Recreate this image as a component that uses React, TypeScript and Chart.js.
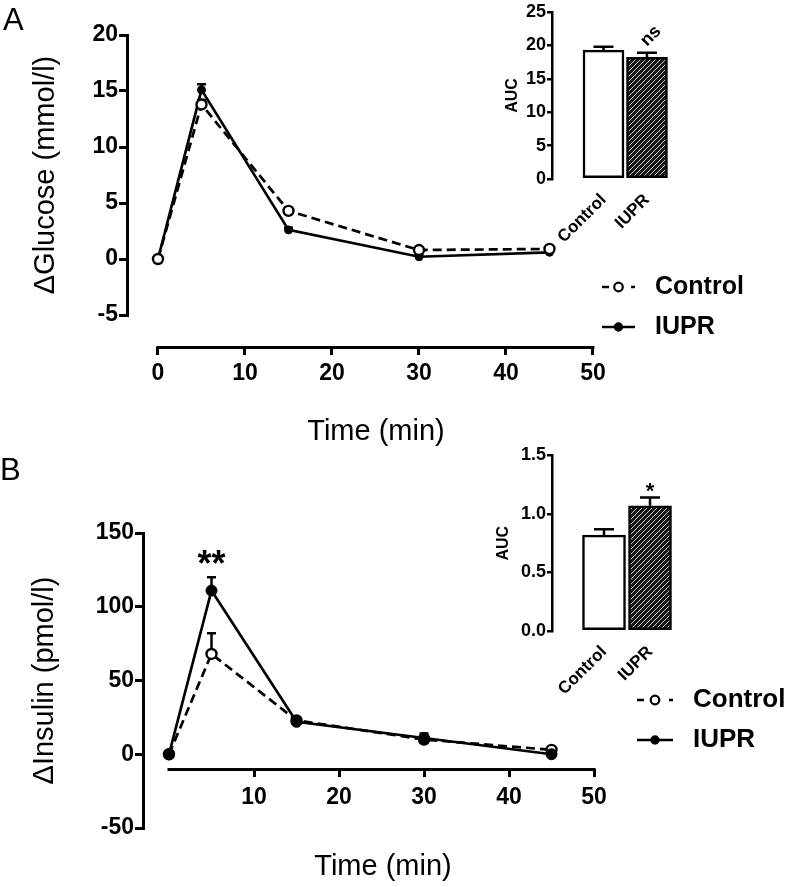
import React, { useEffect, useRef } from "react";
import { Chart, registerables } from "chart.js";

Chart.register(...registerables);

const FONT = "'Liberation Sans', Arial, Helvetica, sans-serif";
Chart.defaults.font.family = FONT;
Chart.defaults.color = "#000";

// ---------------- Data ----------------
const timeMin = [0, 5, 15, 30, 45];

// Panel A – glucose
const glucoseControl = [0, 13.8, 4.3, 0.8, 0.9];
const glucoseControlSEM = [0, 0.4, 0.3, 0.2, 0.2];
const glucoseIUPR = [0, 15.1, 2.6, 0.2, 0.6];
const glucoseIUPRSEM = [0, 0.5, 0.2, 0.2, 0.2];
const glucoseYTicks = [-5, 0, 5, 10, 15, 20];
const glucoseXTicks = [0, 10, 20, 30, 40, 50];

// Panel B – insulin
const insulinControl = [0, 68, 23, 10, 3];
const insulinControlSEM = [0, 14, 2, 2, 2];
const insulinIUPR = [0, 111, 22, 11, 0];
const insulinIUPRSEM = [0, 9, 2, 3, 1];
const insulinYTicks = [-50, 0, 50, 100, 150];
const insulinXTicks = [10, 20, 30, 40, 50];

// Insets – AUC
const groups = ["Control", "IUPR"];
const groupPositions = [1, 2];
const glucoseAUC = [19.3, 18.2];
const glucoseAUCSEM = [0.5, 0.7];
const glucoseAUCTicks = [0, 5, 10, 15, 20, 25];
const insulinAUC = [0.82, 1.07];
const insulinAUCSEM = [0.05, 0.07];
const insulinAUCTicks = [0, 0.5, 1.0, 1.5];

// ---------------- Plugins ----------------
function valueOf(raw: any) {
  return typeof raw === "number" ? raw : raw.y;
}

function errorBarsPlugin(cap: number, width: number, front: boolean) {
  const draw = (chart: any) => {
    const ctx = chart.ctx;
    const yScale = chart.scales.y;
    chart.data.datasets.forEach((ds: any, i: number) => {
      const errs = ds.errorBars;
      if (!errs) return;
      const meta = chart.getDatasetMeta(i);
      meta.data.forEach((el: any, j: number) => {
        const e = errs[j];
        if (!e) return;
        const v = valueOf(ds.data[j]);
        const top = yScale.getPixelForValue(v + e);
        ctx.save();
        ctx.strokeStyle = "#000";
        ctx.lineWidth = width;
        ctx.lineCap = "butt";
        ctx.beginPath();
        ctx.moveTo(el.x, el.y);
        ctx.lineTo(el.x, top);
        ctx.moveTo(el.x - cap / 2, top);
        ctx.lineTo(el.x + cap / 2, top);
        ctx.stroke();
        ctx.restore();
      });
    });
  };
  return front
    ? { id: "errorBars", afterDatasetsDraw: draw }
    : { id: "errorBars", beforeDatasetsDraw: draw };
}

function xAxisLinePlugin(atY: number, from: number, to: number, width: number) {
  return {
    id: "xAxisLine",
    beforeDatasetsDraw(chart: any) {
      const { ctx } = chart;
      const x = chart.scales.x;
      const y = chart.scales.y;
      const yy = Math.round(y.getPixelForValue(atY)) + 0.5;
      ctx.save();
      ctx.strokeStyle = "#000";
      ctx.lineWidth = width;
      ctx.beginPath();
      ctx.moveTo(x.getPixelForValue(from) - width / 2, yy);
      ctx.lineTo(x.getPixelForValue(to) + width / 2, yy);
      ctx.stroke();
      ctx.restore();
    },
  };
}

function lineLegendPlugin(cfg: any) {
  return {
    id: "lineLegend",
    afterDraw(chart: any) {
      const ctx = chart.ctx;
      chart.data.datasets.forEach((ds: any, i: number) => {
        const y = cfg.y + i * cfg.gap;
        const dashed = ds.borderDash && ds.borderDash.length > 0;
        ctx.save();
        ctx.strokeStyle = "#000";
        ctx.lineWidth = 2.7;
        ctx.setLineDash(dashed ? [7, cfg.len - 11, 4] : []);
        ctx.beginPath();
        ctx.moveTo(cfg.x, y);
        ctx.lineTo(cfg.x + cfg.len, y);
        ctx.stroke();
        ctx.setLineDash([]);
        ctx.beginPath();
        ctx.arc(cfg.x + cfg.len / 2, y, dashed ? 4.3 : 3.6, 0, Math.PI * 2);
        ctx.fillStyle = ds.pointBackgroundColor;
        ctx.fill();
        ctx.lineWidth = 2.2;
        ctx.stroke();
        ctx.fillStyle = "#000";
        ctx.font = `bold ${cfg.size}px ${FONT}`;
        ctx.textAlign = "left";
        ctx.textBaseline = "middle";
        ctx.fillText(ds.label, cfg.textX, y);
        ctx.restore();
      });
    },
  };
}

function textMarksPlugin(items: any[]) {
  return {
    id: "textMarks",
    afterDatasetsDraw(chart: any) {
      const ctx = chart.ctx;
      items.forEach((it) => {
        const ds = chart.data.datasets[it.dataset];
        const el = chart.getDatasetMeta(it.dataset).data[it.index];
        const v = valueOf(ds.data[it.index]) + ((ds.errorBars && ds.errorBars[it.index]) || 0);
        const top = chart.scales.y.getPixelForValue(v);
        ctx.save();
        ctx.translate(el.x + it.dx, top + it.dy);
        ctx.rotate(it.rotation || 0);
        ctx.fillStyle = "#000";
        ctx.font = `bold ${it.size}px ${FONT}`;
        ctx.textAlign = "center";
        ctx.textBaseline = it.baseline;
        ctx.fillText(it.text, 0, 0);
        ctx.restore();
      });
    },
  };
}

// ---------------- Chart builders ----------------
function buildMain(canvas: HTMLCanvasElement, p: any) {
  return new Chart(canvas, {
    type: "line",
    data: {
      datasets: [
        {
          label: "Control",
          data: timeMin.map((t, i) => ({ x: t, y: p.control[i] })),
          errorBars: p.controlSEM,
          borderColor: "#000",
          borderWidth: 2.7,
          borderDash: [9, 5],
          pointRadius: p.rControl,
          pointBackgroundColor: "#fff",
          pointBorderColor: "#000",
          pointBorderWidth: 2.4,
          tension: 0,
          fill: false,
          order: p.controlOrder,
        } as any,
        {
          label: "IUPR",
          data: timeMin.map((t, i) => ({ x: t, y: p.iupr[i] })),
          errorBars: p.iuprSEM,
          borderColor: "#000",
          borderWidth: 2.7,
          borderDash: [],
          pointRadius: p.rIUPR,
          pointBackgroundColor: "#000",
          pointBorderColor: "#000",
          pointBorderWidth: 1,
          tension: 0,
          fill: false,
          order: p.iuprOrder,
        } as any,
      ],
    },
    options: {
      responsive: false,
      animation: false,
      devicePixelRatio: 1,
      events: [],
      layout: { padding: p.padding },
      plugins: { legend: { display: false }, tooltip: { enabled: false } },
      scales: {
        x: {
          type: "linear",
          position: { y: p.xAxisAt } as any,
          min: p.xMin,
          max: p.xMax,
          afterBuildTicks: (s: any) => {
            s.ticks = p.xTicks.map((v: number) => ({ value: v }));
          },
          afterFit: (s: any) => {
            s.height = p.xTitleBox;
          },
          grid: {
            display: true,
            drawOnChartArea: false,
            drawTicks: true,
            tickLength: 8,
            lineWidth: 3,
            color: "#000",
          },
          border: { display: false },
          ticks: {
            font: { size: 23, weight: "bold" },
            color: "#000",
            padding: p.xTickPad,
            maxRotation: 0,
            autoSkip: false,
          },
          title: {
            display: true,
            text: "Time (min)",
            font: { size: 29, weight: "normal" },
            color: "#000",
            padding: { top: 0, bottom: 0 },
          },
        },
        y: {
          type: "linear",
          position: "left",
          min: p.yMin,
          max: p.yMax,
          afterBuildTicks: (s: any) => {
            s.ticks = p.yTicks.map((v: number) => ({ value: v }));
          },
          afterFit: (s: any) => {
            s.width = p.yAxisWidth;
          },
          grid: {
            display: true,
            drawOnChartArea: false,
            drawTicks: true,
            tickLength: 8,
            lineWidth: 3,
            color: "#000",
          },
          border: { display: true, width: 3, color: "#000" },
          ticks: {
            font: { size: 23, weight: "bold" },
            color: "#000",
            padding: 1,
          },
          title: {
            display: true,
            text: p.yTitle,
            font: { size: 29, weight: "normal" },
            color: "#000",
            padding: { top: p.yTitlePad, bottom: 0 },
          },
        },
      },
    } as any,
    plugins: [
      xAxisLinePlugin(p.xAxisAt, 0, 50, 3),
      errorBarsPlugin(9, 2.5, false),
      textMarksPlugin(p.marks),
      lineLegendPlugin(p.legend),
    ] as any,
  });
}

function makeHatch() {
  const c = document.createElement("canvas");
  c.width = 5;
  c.height = 5;
  const g = c.getContext("2d") as CanvasRenderingContext2D;
  g.fillStyle = "#151515";
  g.fillRect(0, 0, 5, 5);
  g.strokeStyle = "#c8c8c8";
  g.lineWidth = 1;
  g.beginPath();
  g.moveTo(0, 5);
  g.lineTo(5, 0);
  g.moveTo(-1, 1);
  g.lineTo(1, -1);
  g.moveTo(4, 6);
  g.lineTo(6, 4);
  g.stroke();
  return g.createPattern(c, "repeat");
}

function buildInset(canvas: HTMLCanvasElement, p: any) {
  const hatch = makeHatch();
  return new Chart(canvas, {
    type: "bar",
    data: {
      datasets: [
        {
          label: "AUC",
          data: groupPositions.map((x, i) => ({ x, y: p.values[i] })),
          errorBars: p.sem,
          backgroundColor: ["#fff", hatch],
          borderColor: "#000",
          borderWidth: 2.5,
          borderSkipped: false,
          barThickness: p.barW,
        } as any,
      ],
    },
    options: {
      responsive: false,
      animation: false,
      devicePixelRatio: 1,
      events: [],
      layout: { padding: p.padding },
      plugins: { legend: { display: false }, tooltip: { enabled: false } },
      scales: {
        x: {
          type: "linear",
          offset: false,
          min: p.xMin,
          max: p.xMax,
          afterBuildTicks: (s: any) => {
            s.ticks = groupPositions.map((v) => ({ value: v }));
          },
          afterFit: (s: any) => {
            s.height = p.xH;
          },
          grid: { display: false },
          border: { display: false },
          ticks: {
            callback: (v: any) => groups[groupPositions.indexOf(v)],
            minRotation: 45,
            maxRotation: 45,
            autoSkip: false,
            padding: 3,
            font: { size: 17, weight: "bold" },
            color: "#000",
          },
        },
        y: {
          type: "linear",
          position: "left",
          min: p.yMin,
          max: p.yMax,
          afterBuildTicks: (s: any) => {
            s.ticks = p.yTicks.map((v: number) => ({ value: v }));
          },
          afterFit: (s: any) => {
            s.width = 72;
          },
          grid: {
            display: true,
            drawOnChartArea: false,
            drawTicks: true,
            tickLength: 5,
            lineWidth: 2.5,
            color: "#000",
          },
          border: { display: true, width: 2.5, color: "#000" },
          ticks: {
            font: { size: 18, weight: "bold" },
            color: "#000",
            padding: 1,
            callback: p.tickFormat,
          },
          title: {
            display: true,
            text: "AUC",
            font: { size: 16, weight: "bold" },
            color: "#000",
            padding: { top: p.titlePad, bottom: 0 },
          },
        },
      },
    } as any,
    plugins: [errorBarsPlugin(20, 2.5, true), textMarksPlugin(p.marks)] as any,
  });
}

// ---------------- Component ----------------
export default function App() {
  const mainA = useRef<HTMLCanvasElement>(null);
  const mainB = useRef<HTMLCanvasElement>(null);
  const insetA = useRef<HTMLCanvasElement>(null);
  const insetB = useRef<HTMLCanvasElement>(null);

  useEffect(() => {
    const charts: Chart[] = [];
    charts.push(
      buildMain(mainA.current as HTMLCanvasElement, {
        control: glucoseControl,
        controlSEM: glucoseControlSEM,
        iupr: glucoseIUPR,
        iuprSEM: glucoseIUPRSEM,
        controlOrder: 0,
        iuprOrder: 1,
        rControl: 5,
        rIUPR: 4,
        padding: { left: 0, top: 35, right: 163, bottom: 145 },
        yMin: -5,
        yMax: 20,
        yTicks: glucoseYTicks,
        yTitle: "ΔGlucose (mmol/l)",
        yAxisWidth: 127,
        yTitlePad: 28.6,
        xMin: -3.563,
        xMax: 53.68,
        xTicks: glucoseXTicks,
        xAxisAt: -7.857,
        xTitleBox: 102.4,
        xTickPad: 5,
        legend: { x: 602, y: 287, gap: 40, len: 33, textX: 655, size: 25 },
        marks: [],
      })
    );
    charts.push(
      buildMain(mainB.current as HTMLCanvasElement, {
        control: insulinControl,
        controlSEM: insulinControlSEM,
        iupr: insulinIUPR,
        iuprSEM: insulinIUPRSEM,
        controlOrder: 1,
        iuprOrder: 0,
        rControl: 5,
        rIUPR: 5.5,
        padding: { left: 0, top: 93, right: 165, bottom: 59 },
        yMin: -50,
        yMax: 150,
        yTicks: insulinYTicks,
        yTitle: "ΔInsulin (pmol/l)",
        yAxisWidth: 143,
        yTitlePad: 27.6,
        xMin: -3.06,
        xMax: 53.41,
        xTicks: insulinXTicks,
        xAxisAt: -10,
        xTitleBox: 115.4,
        xTickPad: 7,
        legend: { x: 637, y: 260, gap: 40, len: 36, textX: 693, size: 26 },
        marks: [{ dataset: 1, index: 1, text: "**", dx: 0, dy: -1, size: 36, baseline: "alphabetic" }],
      })
    );
    charts.push(
      buildInset(insetA.current as HTMLCanvasElement, {
        values: glucoseAUC,
        sem: glucoseAUCSEM,
        yMin: 0,
        yMax: 25,
        yTicks: glucoseAUCTicks,
        tickFormat: (v: any) => String(v),
        padding: { left: 0, top: 12, right: 40, bottom: 0 },
        xH: 81,
        xMin: -0.184,
        xMax: 2.759,
        barW: 41,
        titlePad: 23.4,
        marks: [
          { dataset: 0, index: 1, text: "ns", dx: 4, dy: -16.7, size: 18, baseline: "middle", rotation: -Math.PI / 4 },
        ],
      })
    );
    charts.push(
      buildInset(insetB.current as HTMLCanvasElement, {
        values: insulinAUC,
        sem: insulinAUCSEM,
        yMin: 0,
        yMax: 1.5,
        yTicks: insulinAUCTicks,
        tickFormat: (v: any) => Number(v).toFixed(1),
        padding: { left: 0, top: 15.5, right: 40, bottom: 0 },
        xH: 84,
        xMin: -0.1304,
        xMax: 2.652,
        barW: 43,
        titlePad: 13.9,
        marks: [{ dataset: 0, index: 1, text: "*", dx: 0, dy: 0, size: 22, baseline: "alphabetic" }],
      })
    );
    return () => charts.forEach((c) => c.destroy());
  }, []);

  const abs = (l: number, t: number): React.CSSProperties => ({ position: "absolute", left: l, top: t });

  return (
    <div
      style={{
        position: "absolute",
        left: 0,
        top: 0,
        width: 788,
        height: 887,
        background: "#fff",
        overflow: "hidden",
      }}
    >
      <canvas ref={mainA} width={788} height={460} style={{ ...abs(0, 0), width: 788, height: 460 }} />
      <canvas ref={mainB} width={788} height={447} style={{ ...abs(0, 440), width: 788, height: 447 }} />
      <canvas ref={insetA} width={240} height={260} style={{ ...abs(480, 0), width: 240, height: 260 }} />
      <canvas ref={insetB} width={240} height={275} style={{ ...abs(480, 440), width: 240, height: 275 }} />
      <div style={{ ...abs(3, 4), font: `31px ${FONT}`, lineHeight: "31px", color: "#000" }}>A</div>
      <div style={{ ...abs(0, 454), font: `31px ${FONT}`, lineHeight: "31px", color: "#000" }}>B</div>
    </div>
  );
}
